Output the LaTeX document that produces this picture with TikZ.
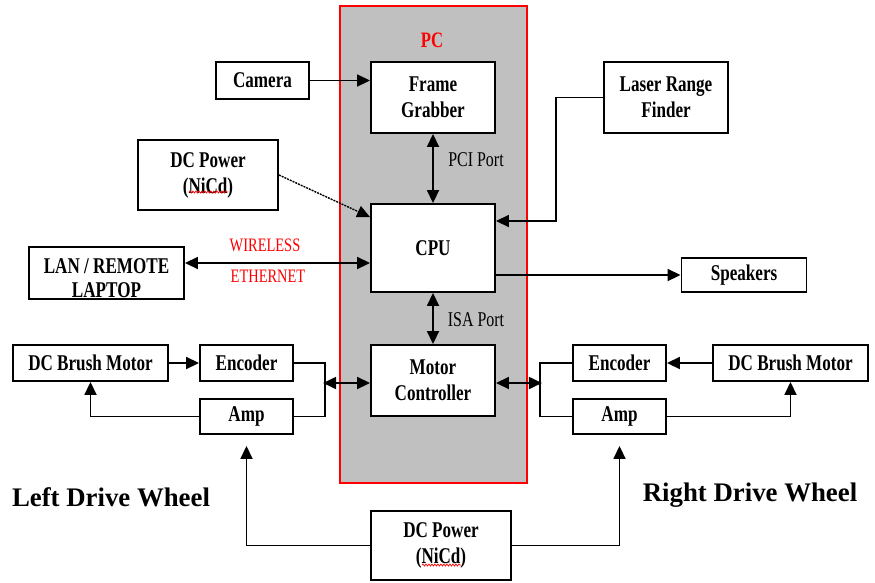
\documentclass[tikz,border=0pt]{standalone}
\usepackage{fontspec}
\setmainfont{Liberation Serif}
\newfontfamily\boxfontfam[FakeStretch=0.76]{Liberation Serif}
\usetikzlibrary{arrows.meta,decorations.pathmorphing}
\definecolor{pcgray}{RGB}{192,192,192}
\begin{document}
\begin{tikzpicture}[x=1pt,y=-1pt,
  box/.style={draw, fill=white, line width=1.9pt, inner sep=0pt, align=center,
    font=\boxfontfam\bfseries\fontsize{22.5}{26}\selectfont},
  boxtext/.style={inner sep=0pt, anchor=base, font=\boxfontfam\bfseries\fontsize{22.5}{26}\selectfont},
  lbl/.style={inner sep=0pt, font=\boxfontfam\fontsize{21}{24}\selectfont},
  redlbl/.style={inner sep=0pt, text=red, font=\boxfontfam\fontsize{19}{22}\selectfont},
  wheel/.style={inner sep=0pt, font=\bfseries\fontsize{26.8}{30}\selectfont},
  tip/.tip={Triangle[length=13pt,width=12pt]},
  conn/.style={line width=1.8pt},
  arr/.style={conn, -tip},
  darr/.style={conn, tip-tip},
  wavy/.style={red, line width=0.7pt, decorate, decoration={snake, amplitude=1pt, segment length=3pt}}
]
\useasboundingbox (0,0) rectangle (875,582);
\fill[white] (0,0) rectangle (875,582);

% PC enclosure
\node[draw=red, fill=pcgray, line width=1.4pt, minimum width=187pt, minimum height=477pt, inner sep=0pt] (pc) at (433.5,244.5) {};
\node[inner sep=0pt, text=red, font=\boxfontfam\bfseries\fontsize{22}{24}\selectfont] (pclbl) at (432,40) {PC};

% boxes
\node[box, minimum width=124pt, minimum height=71pt] (fg) at (433,97.5) {Frame\\Grabber};
\node[box, minimum width=93pt, minimum height=37pt] (cam) at (262.5,80.5) {Camera};
\node[box, minimum width=140pt, minimum height=70pt] (dcp1) at (208,175) {DC Power\\(NiCd)};
\node[box, minimum width=124pt, minimum height=88pt] (cpu) at (433,248) {CPU};
\begin{scope}
  \clip (29,247) rectangle (184,297);
  \node[boxtext] (lan1) at (106.5,273) {LAN / REMOTE};
  \node[boxtext] (lan2) at (106.5,297) {LAPTOP};
\end{scope}
\node[draw, line width=1.9pt, inner sep=0pt, minimum width=155pt, minimum height=52pt] (lan) at (106.5,273) {};
\node[box, minimum width=124pt, minimum height=71pt] (lrf) at (666,97.5) {Laser Range\\Finder};
\node[box, minimum width=125pt, minimum height=34pt] (spk) at (744,275) {Speakers};
\node[box, minimum width=124pt, minimum height=71pt] (mc) at (433,380.5) {Motor\\Controller};

\node[box, minimum width=155pt, minimum height=36pt] (ldcm) at (90.5,363) {DC Brush Motor};
\node[box, minimum width=93pt, minimum height=36pt] (lenc) at (246.5,363) {Encoder};
\node[box, minimum width=93pt, minimum height=35pt] (lamp) at (246.5,416.5) {Amp};

\node[box, minimum width=93pt, minimum height=36pt] (renc) at (619.5,363) {Encoder};
\node[box, minimum width=93pt, minimum height=35pt] (ramp) at (619.5,416.5) {Amp};
\node[box, minimum width=155pt, minimum height=36pt] (rdcm) at (790.5,363) {DC Brush Motor};

\node[box, minimum width=140pt, minimum height=69pt] (dcp2) at (441,545.5) {DC Power\\(NiCd)};

% spell-check underlines
\draw[wavy] (189,192) -- (228,192);
\draw[wavy] (422,565) -- (461,565);

% labels
\node[lbl] (pci) at (476,160) {PCI Port};
\node[lbl] (isa) at (476,320) {ISA Port};
\node[redlbl] (wl) at (265,245) {WIRELESS};
\node[redlbl] (eth) at (268,276) {ETHERNET};
\node[wheel] (lw) at (111,497) {Left Drive Wheel};
\node[wheel] (rw) at (750,495) {Right Drive Wheel};

% connectors
\draw[arr] (cam.east) -- (cam.east -| fg.west);
\draw[darr] (fg.south) -- (cpu.north);
\draw[arr, line width=1.4pt, dash pattern=on 2pt off 1pt] (dcp1.east) -- ([yshift=-14pt]cpu.north west);
\draw[darr] ([yshift=10pt]lan.east) -- ([yshift=10pt]lan.east -| cpu.west);
\draw[arr] (lrf.west) -- ++(-47,0) |- ([yshift=27pt]cpu.east);
\draw[arr] (spk.west -| cpu.east) -- (spk.west);
\draw[darr] (cpu.south) -- (mc.north);

\draw[arr] (ldcm.east) -- (lenc.west);
\draw[conn] (lenc.east) -- ++(31,0) |- (lamp.east);
\draw[darr] ([yshift=-2.5pt]mc.west) -- ++(-47,0);
\draw[arr] (lamp.west) -| (ldcm.south);
\draw[arr] (dcp2.west) -| ([yshift=-11pt]lamp.south);

\draw[arr] (rdcm.west) -- (renc.east);
\draw[conn] (renc.west) -- ++(-32,0) |- (ramp.west);
\draw[darr] ([yshift=-2.5pt]mc.east) -- ++(46,0);
\draw[arr] (ramp.east) -| (rdcm.south);
\draw[arr] (dcp2.east) -| ([yshift=-11pt]ramp.south);
\end{tikzpicture}
\end{document}
